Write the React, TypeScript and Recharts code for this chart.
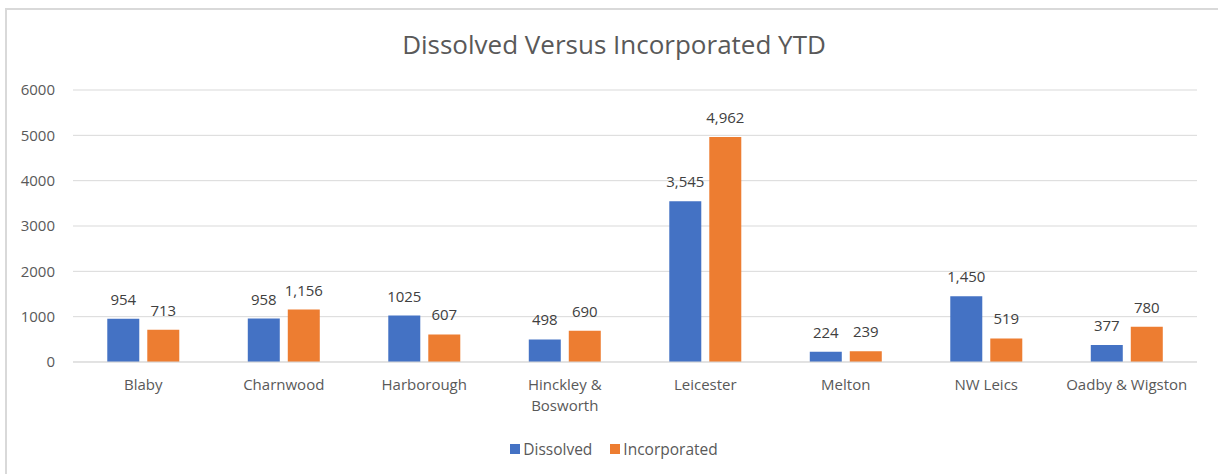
import React from "react";
import {
  BarChart,
  Bar,
  XAxis,
  YAxis,
  CartesianGrid,
  LabelList,
} from "recharts";

const districts = [
  "Blaby",
  "Charnwood",
  "Harborough",
  "Hinckley & Bosworth",
  "Leicester",
  "Melton",
  "NW Leics",
  "Oadby & Wigston",
];
const tickLines = [
  ["Blaby"],
  ["Charnwood"],
  ["Harborough"],
  ["Hinckley &", "Bosworth"],
  ["Leicester"],
  ["Melton"],
  ["NW Leics"],
  ["Oadby & Wigston"],
];
const dissolved = [954, 958, 1025, 498, 3545, 224, 1450, 377];
const incorporated = [713, 1156, 607, 690, 4962, 239, 519, 780];
const dissolvedLabels = ["954", "958", "1025", "498", "3,545", "224", "1,450", "377"];
const incorporatedLabels = ["713", "1,156", "607", "690", "4,962", "239", "519", "780"];
const yTicks = [0, 1000, 2000, 3000, 4000, 5000, 6000];

const series = [
  { key: "Dissolved", label: "dLabel", color: "#4472C4" },
  { key: "Incorporated", label: "iLabel", color: "#ED7D31" },
];

const FONT = "'Open Sans', sans-serif";
const TEXT = "#595959";

const chartData = districts.map((name, i) => ({
  name,
  Dissolved: dissolved[i],
  Incorporated: incorporated[i],
  dLabel: dissolvedLabels[i],
  iLabel: incorporatedLabels[i],
}));

const CategoryTick = (props: any) => {
  const { x, y, payload } = props;
  const lines = tickLines[payload.index] ?? [payload.value];
  return (
    <g transform={`translate(${x},${y})`}>
      {lines.map((line: string, k: number) => (
        <text
          key={k}
          x={0}
          y={k * 21}
          dy={20}
          textAnchor="middle"
          fill={TEXT}
          fontSize={15}
          fontFamily={FONT}
        >
          {line}
        </text>
      ))}
    </g>
  );
};

const App: React.FC = () => {
  return (
    <div
      style={{
        position: "absolute",
        left: 0,
        top: 0,
        width: 1218,
        height: 474,
        background: "#fff",
        overflow: "hidden",
      }}
    >
      <div
        style={{
          position: "absolute",
          left: 5,
          top: 8,
          width: 1230,
          height: 480,
          border: "2px solid #d9d9d9",
          boxSizing: "border-box",
        }}
      />
      <div
        style={{
          position: "absolute",
          top: 26,
          left: 0,
          width: 1228,
          textAlign: "center",
          fontFamily: FONT,
          fontSize: 26,
          color: TEXT,
        }}
      >
        Dissolved Versus Incorporated YTD
      </div>
      <BarChart
        width={1218}
        height={474}
        data={chartData}
        margin={{ top: 90, right: 21, bottom: 52, left: 0 }}
        barCategoryGap="24.4%"
        barGap={8}
        style={{ position: "absolute", left: 0, top: 0 }}
      >
        <CartesianGrid vertical={false} stroke="#d9d9d9" />
        <XAxis
          dataKey="name"
          axisLine={{ stroke: "#d9d9d9" }}
          tickLine={false}
          interval={0}
          tick={<CategoryTick />}
          height={60}
        />
        <YAxis
          width={73}
          domain={[0, 6000]}
          ticks={yTicks}
          axisLine={false}
          tickLine={false}
          tickMargin={12}
          tick={{ fill: TEXT, fontSize: 15, fontFamily: FONT }}
        />
        {series.map((s) => (
          <Bar key={s.key} dataKey={s.key} fill={s.color} isAnimationActive={false}>
            <LabelList
              dataKey={s.label}
              position="top"
              offset={14}
              fill="#404040"
              fontSize={15}
              fontFamily={FONT}
            />
          </Bar>
        ))}
      </BarChart>
      <div
        style={{
          position: "absolute",
          top: 438,
          left: 0,
          width: 1228,
          display: "flex",
          justifyContent: "center",
          gap: 18,
          fontFamily: FONT,
          fontSize: 15.5,
          color: TEXT,
        }}
      >
        {series.map((s) => (
          <div key={s.key} style={{ display: "flex", alignItems: "center" }}>
            <span
              style={{
                display: "inline-block",
                width: 10,
                height: 10,
                background: s.color,
                marginRight: 3,
              }}
            />
            {s.key}
          </div>
        ))}
      </div>
    </div>
  );
};

export default App;
